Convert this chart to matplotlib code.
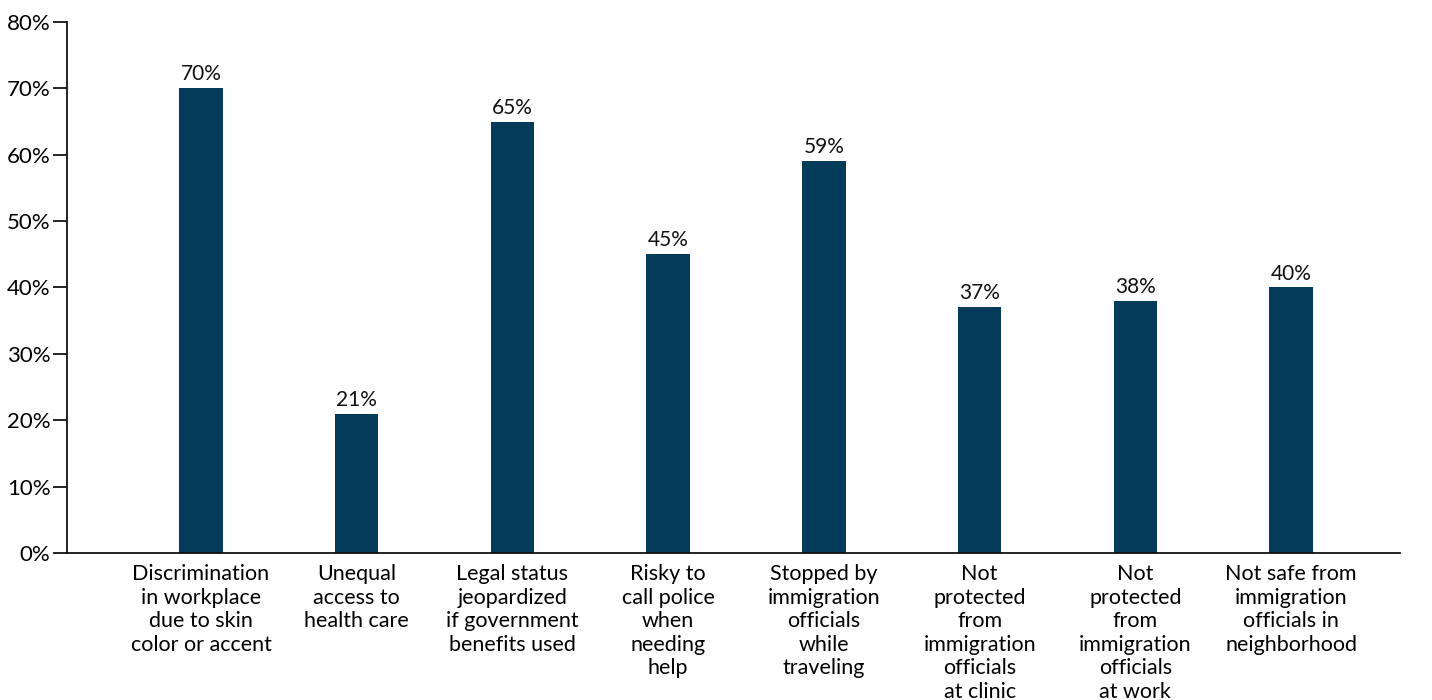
import matplotlib
matplotlib.use("Agg")
import matplotlib.pyplot as plt
from matplotlib.ticker import FuncFormatter

categories = [
    "Discrimination\nin workplace\ndue to skin\ncolor or accent",
    "Unequal\naccess to\nhealth care",
    "Legal status\njeopardized\nif government\nbenefits used",
    "Risky to\ncall police\nwhen\nneeding\nhelp",
    "Stopped by\nimmigration\nofficials\nwhile\ntraveling",
    "Not\nprotected\nfrom\nimmigration\nofficials\nat clinic",
    "Not\nprotected\nfrom\nimmigration\nofficials\nat work",
    "Not safe from\nimmigration\nofficials in\nneighborhood",
]
values = [70, 21, 65, 45, 59, 37, 38, 40]
yticks = [0, 10, 20, 30, 40, 50, 60, 70, 80]

plt.rcParams['font.family'] = ['Lato', 'DejaVu Sans']

fig = plt.figure(figsize=(14.32, 7.0), dpi=100)
ax = fig.add_axes([0.0468, 0.21, 0.9309, 0.7586])

x = list(range(len(values)))
bars = ax.bar(x, values, width=0.28, color="#053b5a")
for xi, v in zip(x, values):
    ax.text(xi, v + 0.6, f"{v}%", ha="center", va="bottom", fontsize=15, color="#111111")

ax.set_xlim(-0.86, 7.7)
ax.set_ylim(0, 80)
ax.set_yticks(yticks)
ax.yaxis.set_major_formatter(FuncFormatter(lambda v, p: f"{int(v)}%"))
ax.set_xticks(x)
ax.set_xticklabels(categories, fontsize=15.5, linespacing=1.22)
ax.tick_params(axis="x", length=0, pad=8)
ax.tick_params(axis="y", length=10, width=1.2, labelsize=16, pad=2)

for s in ["top", "right"]:
    ax.spines[s].set_visible(False)
for s in ["left", "bottom"]:
    ax.spines[s].set_linewidth(1.3)
    ax.spines[s].set_color("#111111")

fig.savefig("out.png", dpi=100)
